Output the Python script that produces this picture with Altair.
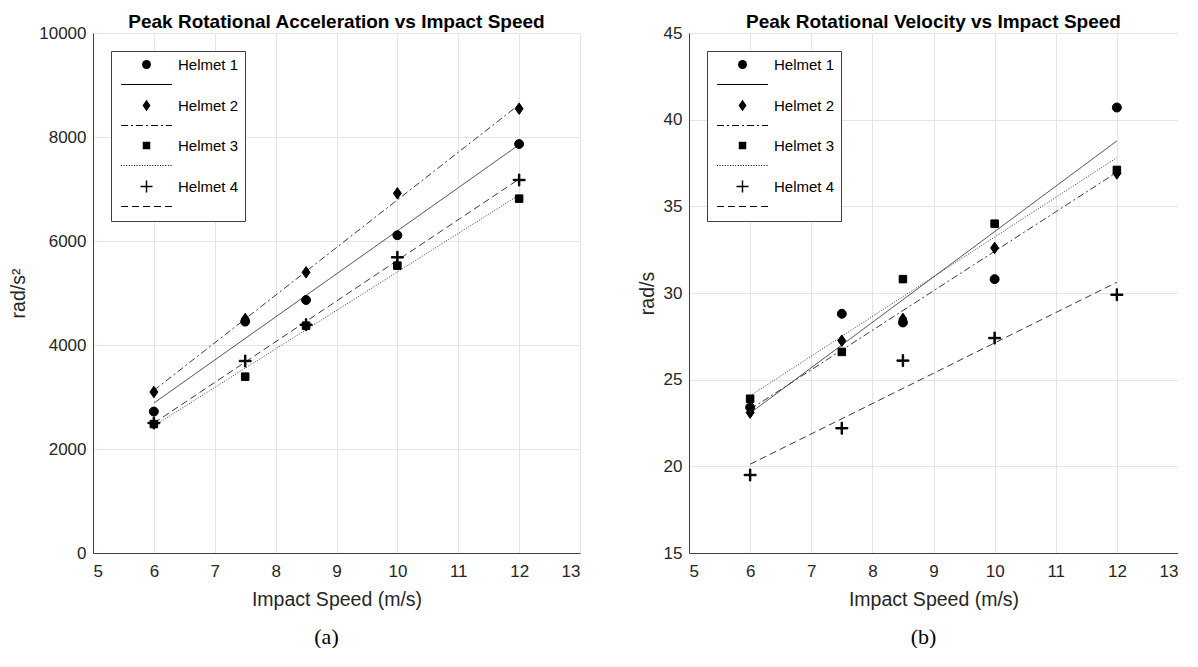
import altair as alt
import pandas as pd

# ---------------- data ----------------
speeds = [6, 7.5, 8.5, 10, 12]
helmets = ["Helmet 1", "Helmet 2", "Helmet 3", "Helmet 4"]

acc_helmet1 = [2720, 4450, 4865, 6110, 7865]
acc_helmet2 = [3096, 4500, 5398, 6917, 8545]
acc_helmet3 = [2480, 3391, 4372, 5526, 6814]
acc_helmet4 = [2500, 3692, 4390, 5686, 7173]

vel_helmet1 = [23.4, 28.8, 28.3, 30.8, 40.7]
vel_helmet2 = [23.1, 27.25, 28.5, 32.6, 36.9]
vel_helmet3 = [23.9, 26.6, 30.8, 34.0, 37.1]
vel_helmet4 = [19.5, 22.2, 26.1, 27.4, 29.9]

x_ticks = [5, 6, 7, 8, 9, 10, 11, 12, 13]
acc_ticks = [0, 2000, 4000, 6000, 8000, 10000]
vel_ticks = [15, 20, 25, 30, 35, 40, 45]

# legend entries: marker row followed by fitted-line row (MATLAB style)
entries = []
for h in helmets:
    entries += [h, h + "|fit"]

# line styles of the fitted lines (on/off lengths in px)
dash_solid = [1, 0]
dash_dashdot = [7, 3, 2, 3]
dash_dotted = [1, 1.6]
dash_dashed = [7, 4]

SYM_SCALE = 80 ** 0.5 / 2  # px per unit of a custom symbol path at size 80


def legend_line_path(pattern, length_px=51.0, thick_px=1.0):
    """Filled path that draws a short dashed line for the legend symbol."""
    half = length_px / 2 / SYM_SCALE
    t = thick_px / 2 / SYM_SCALE
    if pattern[1] == 0:
        return f"M{-half:.3f},{-t:.3f}H{half:.3f}V{t:.3f}H{-half:.3f}Z"
    segs = []
    pos = -half
    i = 0
    while pos < half:
        seg = pattern[i % len(pattern)] / SYM_SCALE
        if i % 2 == 0:
            end = min(pos + seg, half)
            segs.append(f"M{pos:.3f},{-t:.3f}H{end:.3f}V{t:.3f}H{pos:.3f}Z")
        pos += seg
        i += 1
    return "".join(segs)


shape_range = [
    "circle", legend_line_path(dash_solid),
    "M0,-1.29L0.89,0L0,1.29L-0.89,0Z", legend_line_path(dash_dashdot),
    "M-0.84,-0.84H0.84V0.84H-0.84Z", legend_line_path(dash_dotted),
    "M-1.34,-0.16H-0.16V-1.34H0.16V-0.16H1.34V0.16H0.16V1.34H-0.16V0.16H-1.34Z",
    legend_line_path(dash_dashed),
]
dash_range = [dash_solid, dash_solid, dash_solid, dash_dashdot,
              dash_solid, dash_dotted, dash_solid, dash_dashed]


def long_table(series):
    rows = []
    for h, vals in zip(helmets, series):
        for s, v in zip(speeds, vals):
            rows.append({"helmet": h, "speed": s, "value": v})
    return pd.DataFrame(rows)


acc_df = long_table([acc_helmet1, acc_helmet2, acc_helmet3, acc_helmet4])
vel_df = long_table([vel_helmet1, vel_helmet2, vel_helmet3, vel_helmet4])

FONT = "Liberation Sans"
TXT = "#262626"


def make_legend():
    return alt.Legend(
        title=None,
        orient="top-left",
        offset=18,
        padding=6,
        rowPadding=4,
        symbolSize=80,
        symbolOffset=22,
        labelOffset=24,
        symbolStrokeWidth=1,
        symbolStrokeColor="black",
        symbolFillColor="black",
        labelFont=FONT,
        labelFontSize=15,
        labelColor="black",
        labelExpr="indexof(datum.label, '|fit') >= 0 ? '' : datum.label",
        strokeColor="#404040",
        fillColor="white",
    )


def panel(df, title, ytitle, ydomain, yticks, w, ytitle_pad, caption):
    x_enc = alt.X(
        "speed:Q",
        scale=alt.Scale(domain=[5, 13], nice=False, zero=False),
        axis=alt.Axis(values=x_ticks, title="Impact Speed (m/s)", labelPadding=10,
                      titlePadding=11, format="d"),
    )
    y_enc = alt.Y(
        "value:Q",
        scale=alt.Scale(domain=ydomain, nice=False, zero=False),
        axis=alt.Axis(values=yticks, title=ytitle, labelPadding=7,
                      titlePadding=ytitle_pad, format="d"),
    )
    base = alt.Chart(df)
    points = (
        base.transform_calculate(entry="datum.helmet")
        .mark_point(filled=True, size=80, fill="black", stroke="black",
                    strokeWidth=1, opacity=1)
        .encode(
            x=x_enc,
            y=y_enc,
            shape=alt.Shape("entry:N",
                            scale=alt.Scale(domain=entries, range=shape_range),
                            legend=make_legend()),
        )
    )
    lines = (
        base.transform_calculate(entry="datum.helmet + '|fit'")
        .transform_regression("speed", "value", groupby=["entry"], extent=[6, 12])
        .mark_line(color="#3a3a3a", strokeWidth=1)
        .encode(
            x=x_enc,
            y=y_enc,
            strokeDash=alt.StrokeDash("entry:N",
                                      scale=alt.Scale(domain=entries, range=dash_range),
                                      legend=make_legend()),
        )
    )
    cap = (
        alt.Chart(pd.DataFrame({"caption": [caption]}))
        .mark_text(font="Liberation Serif", fontSize=22, color="black",
                   baseline="middle", align="center")
        .encode(text="caption:N", x=alt.value(w / 2 - 10), y=alt.value(604))
    )
    return alt.layer(lines, points, cap).properties(
        width=w,
        height=520,
        title=alt.TitleParams(title, font=FONT, fontSize=19, fontWeight="bold",
                              color="black", offset=-8, anchor="middle",
                              frame="group"),
    )


panel_a = panel(acc_df, "Peak Rotational Acceleration vs Impact Speed", "rad/s²",
                [0, 10000], acc_ticks, 487, 10, "(a)")
panel_b = panel(vel_df, "Peak Rotational Velocity vs Impact Speed", "rad/s",
                [15, 45], vel_ticks, 489, 6, "(b)")

chart = (
    alt.hconcat(panel_a, panel_b, spacing=57)
    .resolve_scale(x="independent", y="independent", shape="independent",
                   strokeDash="independent")
    .resolve_legend(shape="independent", strokeDash="independent")
    .properties(padding={"left": 0, "top": 5, "right": 0, "bottom": 0},
                background="white")
    .configure_view(stroke=None)
    .configure_axis(
        grid=True,
        gridColor="#e4e4e4",
        gridWidth=1,
        domainColor="#404040",
        domainWidth=1,
        ticks=False,
        labelFont=FONT,
        labelFontSize=17,
        labelColor=TXT,
        titleFont=FONT,
        titleFontSize=19.5,
        titleFontWeight="normal",
        titleColor=TXT,
    )
)

chart.save("out.html", embed_options={"renderer": "svg", "actions": False})
